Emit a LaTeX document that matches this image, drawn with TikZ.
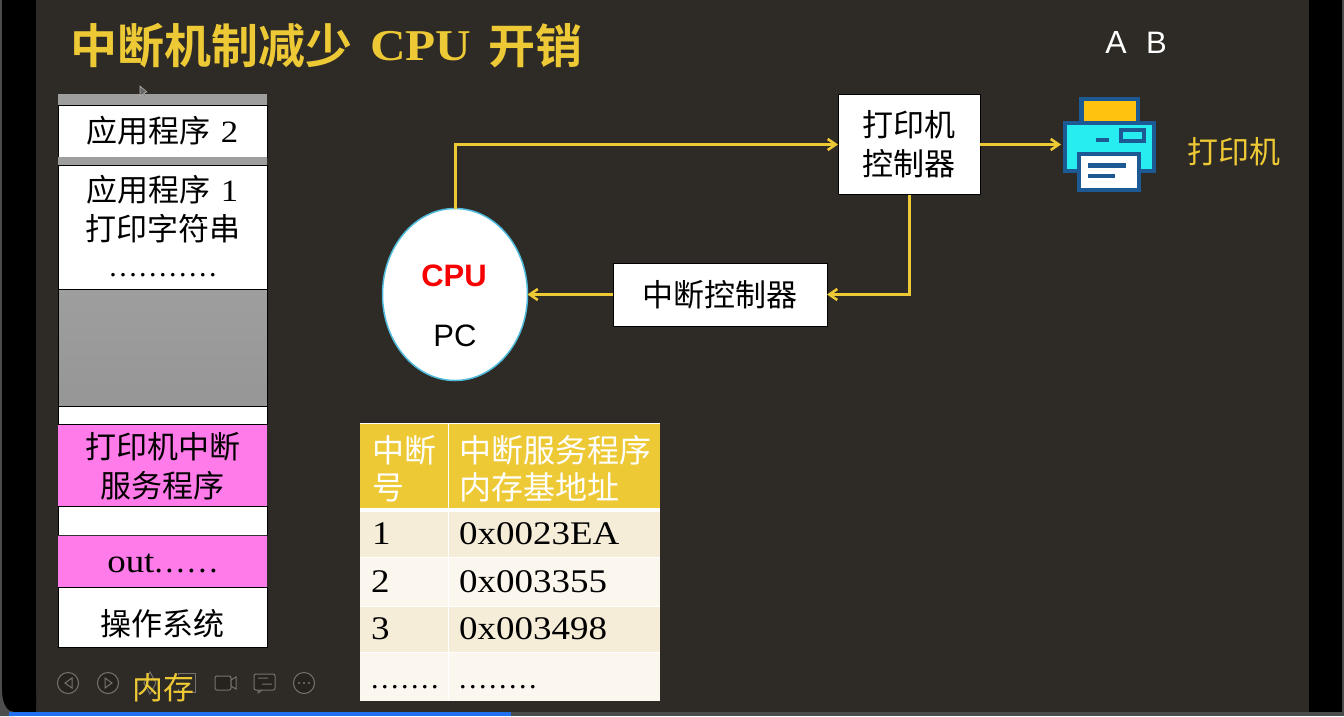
\documentclass[tikz,border=0pt]{standalone}
\usepackage{fontspec}
\setmainfont{Liberation Serif}
\setsansfont{Liberation Sans}
\newfontfamily\cjk{Noto Sans CJK SC}
\newfontfamily\cjkb{Noto Sans CJK SC}[BoldFont={Noto Sans CJK SC Bold}]
\newfontfamily\widef{Liberation Serif}[FakeStretch=1.12]
\newfontfamily\dotf{Liberation Serif}[LetterSpace=8.3]
\usetikzlibrary{arrows.meta,shapes.geometric}
\definecolor{slide}{HTML}{2E2A25}
\definecolor{gold}{HTML}{EDC936}
\definecolor{memgray}{HTML}{9E9E9E}
\definecolor{memgrayb}{HTML}{969696}
\definecolor{pinkm}{HTML}{FF7BEA}
\definecolor{rowa}{HTML}{F6EDD9}
\definecolor{rowb}{HTML}{FCF7EE}
\definecolor{pblue}{HTML}{1D5A94}
\definecolor{pcyan}{HTML}{28EDF0}
\definecolor{pyel}{HTML}{FFC20E}
\definecolor{toolg}{HTML}{77746F}
\definecolor{toolf}{HTML}{26231F}
\definecolor{cpuedge}{HTML}{4FBBDD}
\definecolor{barblue}{HTML}{2070F0}
\definecolor{cpured}{HTML}{F80000}
\tikzset{
  memcell/.style={draw=black,line width=1pt,fill=white,minimum width=209pt,inner sep=0pt,outer sep=0pt,anchor=north west,text=black,align=center,font=\cjk\fontsize{31}{39}\selectfont},
  memtext/.style={inner sep=0pt,text=black,font=\cjk\fontsize{31}{31}\selectfont},
  boxn/.style={draw=black,line width=1pt,fill=white,inner sep=0pt,outer sep=0pt,text=black,align=center,font=\cjk\fontsize{31}{39}\selectfont},
  flow/.style={draw=gold,line width=3pt,-{Straight Barb[length=8pt,width=11pt,line width=2.6pt]}},
  cellt/.style={anchor=west,inner sep=0pt,text=black,font=\widef\fontsize{33}{33}\selectfont},
  dott/.style={anchor=west,inner sep=0pt,text=black,font=\dotf\fontsize{30}{30}\selectfont},
  headt/.style={anchor=west,inner sep=0pt,text=white,align=left,font=\cjk\fontsize{32}{37}\selectfont},
  toolic/.style={draw=toolg,line width=1pt},
}
\begin{document}
\begin{tikzpicture}[x=1pt,y=-1pt]
\useasboundingbox (0,0) rectangle (1344,716);
% frame
\fill[black] (0,0) rectangle (1344,716);
\fill[black!70!white] (0,0) rectangle (2,690);
\fill[black!70!white] (1342,0) rectangle (1344,716);
\fill[slide] (36,0) rectangle (1309,712);
\fill[black!70!white] (2,690) .. controls (2,705) and (8,712) .. (14,712) -- (14,716) -- (0,716) -- (0,690) -- cycle;
\fill[black] (3,690) .. controls (3,704) and (8,711) .. (14,711) -- (36,711) -- (36,690) -- cycle;
\fill[black!70!white] (511,712) rectangle (1344,716);
\fill[barblue] (9,712) rectangle (511,716);
% title
\node[anchor=west,inner sep=0pt,text=gold,font=\cjkb\bfseries\fontsize{47}{47}\selectfont] (title) at (70,46) {中断机制减少};
\node[anchor=west,inner sep=0pt,text=gold,font=\widef\bfseries\fontsize{44}{44}\selectfont] (titlecpu) at (370,46) {CPU};
\node[anchor=west,inner sep=0pt,text=gold,font=\cjkb\bfseries\fontsize{47}{47}\selectfont] (titleend) at (488,46) {开销};
\node[text=white,inner sep=0pt,font=\sffamily\fontsize{32}{32}\selectfont] (la) at (1116,42) {A};
\node[text=white,inner sep=0pt,font=\sffamily\fontsize{31}{31}\selectfont] (lb) at (1156.500,43) {B};
% memory
\fill[memgray] (58,94) rectangle (267,105);
\node[memcell,minimum height=52pt] (app2) at (58,105) {应用程序\hspace{10pt}{\widef 2}};
\fill[memgray] (58,157) rectangle (267,165);
\node[memcell,minimum height=124pt] (app1) at (58,165) {};
\node[memtext] (app1a) at (162.500,190) {应用程序\hspace{10pt}{\widef 1}};
\node[memtext] (app1b) at (162.500,229) {打印字符串};
\node[memtext,font=\dotf\fontsize{30}{30}\selectfont] (app1c) at (163,275) {...........};
\shade[top color=memgray,bottom color=memgrayb] (58,289) rectangle (267,406);
\draw[black,line width=1pt] (58,289) rectangle (267,406);
\node[memcell,minimum height=18pt] (gap1) at (58,406) {};
\node[memcell,draw=none,fill=pinkm,minimum height=82pt] (isr) at (58,424) {};
\draw[black,line width=1pt] (isr.north west) -- (isr.north east) (isr.south west) -- (isr.south east);
\node[memtext] (isra) at (162.500,447) {打印机中断};
\node[memtext] (isrb) at (162.500,486) {服务程序};
\node[memcell,minimum height=29pt] (gap2) at (58,506) {};
\node[memcell,draw=none,fill=pinkm,minimum height=52pt] (out) at (58,535) {};
\node[memtext,font=\widef\fontsize{33}{33}\selectfont] (outt) at (162.500,563) {out\dotf......};
\node[memcell,minimum height=60pt] (os) at (58,587) {};
\node[memtext] (ost) at (162.500,624) {操作系统};
\draw[black!80,line width=1pt] (58,535) -- (267,535);
% toolbar
\draw[toolic,fill=toolf] (68,683) circle (10.500);
\draw[toolic] (72,678) -- (65,683) -- (72,688) -- cycle;
\draw[toolic,fill=toolf] (108,683) circle (10.500);
\draw[toolic] (105,678) -- (112,683) -- (105,688) -- cycle;
\draw[toolic] (150,672) -- (156,683) -- (150,694) -- (144,683) -- cycle;
\draw[toolic] (178,675) -- (178,673) -- (195,673) -- (195,692) -- (178,692) -- (178,689);
\draw[toolic,fill=toolf,rounded corners=2pt] (215,676) rectangle (231,690);
\draw[toolic,fill=toolf] (231,680) -- (236,677) -- (236,689) -- (231,686) -- cycle;
\draw[toolic,fill=toolf,rounded corners=2pt] (254,674) rectangle (275,690);
\draw[toolic] (258,678) -- (268,678) (262,684) -- (272,684) (258,690) -- (258,693) -- (262,690);
\draw[toolic,fill=toolf] (304,683) circle (10.500);
\fill[toolg] (299,683) circle (1.200) (304,683) circle (1.200) (309,683) circle (1.200);
\node[text=gold,inner sep=0pt,font=\cjk\fontsize{31}{31}\selectfont] (memlab) at (163,688) {内存};
% cursor
\draw[white!70!black,fill=black!60,line width=0.6pt] (140,86) -- (140,96) -- (143,94) -- (145,98) -- (146,97) -- (144,93) -- (147,92) -- cycle;
% right diagram
\node[boxn,minimum width=142pt,minimum height=100pt] (pctl) at (909,144.500) {打印机\\控制器};
\node[boxn,minimum width=214pt,minimum height=63pt] (ictl) at (720,294.500) {中断控制器};
\node[ellipse,draw=cpuedge,line width=1.5pt,fill=white,minimum width=145pt,minimum height=172pt,inner sep=0pt,outer sep=0pt] (cpu) at (455,294.500) {};
\node[inner sep=0pt,text=cpured,font=\sffamily\bfseries\fontsize{31}{31}\selectfont] (cpul) at (454,276) {CPU};
\node[inner sep=0pt,text=black,font=\sffamily\fontsize{31}{31}\selectfont] (pcl) at (455,336) {PC};
\coordinate (prt) at (1061,144.500);
\draw[flow] (cpu.north) |- (pctl.west);
\draw[flow] (pctl.east) -- (prt);
\draw[flow] (pctl.south) |- (ictl.east);
\draw[flow] (ictl.west) -- (cpu.east);
% printer icon
\fill[pblue] (1079,97) rectangle (1140,122);
\fill[pyel] (1084,101) rectangle (1136,122);
\fill[pblue] (1063,121) rectangle (1156,173);
\fill[pcyan] (1067,125) rectangle (1152,169);
\fill[pblue] (1119,128) rectangle (1146,143);
\fill[pcyan] (1123,132) rectangle (1142,139);
\fill[pblue] (1096,138) rectangle (1109,142);
\fill[pblue] (1077,152) rectangle (1141,192);
\fill[white] (1081,156) rectangle (1137,188);
\fill[pblue] (1088,163) rectangle (1126,168);
\fill[pblue] (1088,174) rectangle (1115,178);
\node[text=gold,inner sep=0pt,font=\cjk\fontsize{31}{31}\selectfont] (plab) at (1234,152) {打印机};
% table
\fill[white] (360,423) rectangle (660,701);
\fill[gold] (360,424) rectangle (660,508);
\fill[rowa] (360,512) rectangle (660,557);
\fill[rowb] (360,557) rectangle (660,606);
\fill[rowa] (360,606) rectangle (660,652);
\fill[rowb] (360,652) rectangle (660,701);
\draw[white,line width=1pt] (360,557) -- (660,557) (360,606) -- (660,606) (360,652) -- (660,652) (448,424) -- (448,701);
\node[headt] (h1) at (372,469) {中断\\号};
\node[headt] (h2) at (459,469) {中断服务程序\\内存基地址};
\node[cellt] (r1a) at (372,534) {1};
\node[cellt] (r1b) at (459,534) {0x0023EA};
\node[cellt] (r2a) at (371,582) {2};
\node[cellt] (r2b) at (459,582) {0x003355};
\node[cellt] (r3a) at (371,629) {3};
\node[cellt] (r3b) at (459,629) {0x003498};
\node[dott] (r4a) at (371,687) {.......};
\node[dott] (r4b) at (459,687) {........};
\end{tikzpicture}
\end{document}
